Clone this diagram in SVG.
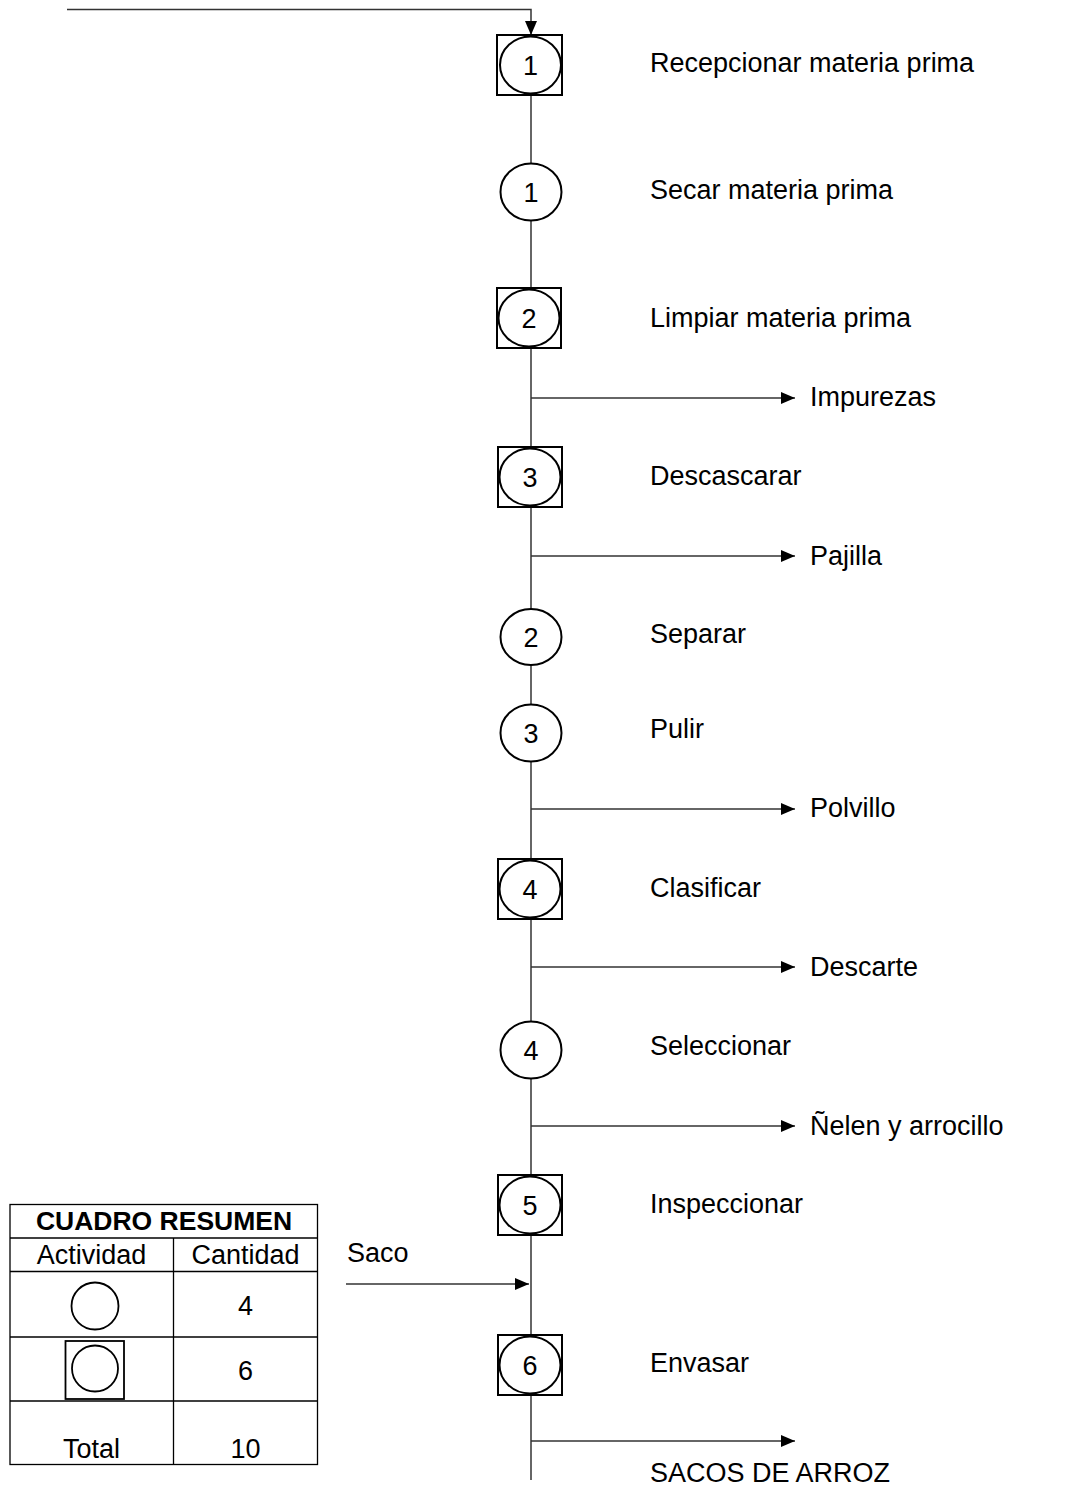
<svg xmlns="http://www.w3.org/2000/svg" width="1084" height="1486" viewBox="0 0 1084 1486">
<style>
.t{font-family:"Liberation Sans",Arial,sans-serif;font-size:27px;fill:#000}
.n{font-family:"Liberation Sans",Arial,sans-serif;font-size:27px;fill:#000;text-anchor:middle}
.b{font-weight:bold;font-size:26.5px}
.c{fill:#fff;stroke:#000;stroke-width:2}
.bx{fill:#fff;stroke:#000;stroke-width:2}
.ln{fill:none;stroke:#333;stroke-width:1.5}
.tb{fill:none;stroke:#000;stroke-width:1.3}
</style>
<defs>
<marker id="ah" markerWidth="14" markerHeight="12" refX="14" refY="6" orient="auto" markerUnits="userSpaceOnUse">
<path d="M0,0 L14,6 L0,12 z" fill="#000"/>
</marker>
</defs>
<rect width="1084" height="1486" fill="#fff"/>
<g id="connectors">
<path class="ln" d="M67,9.5 H531 V35" marker-end="url(#ah)"/>
<line class="ln" x1="531" y1="35" x2="531" y2="1480"/>
<line class="ln" x1="531" y1="398" x2="795" y2="398" marker-end="url(#ah)"/>
<line class="ln" x1="531" y1="556" x2="795" y2="556" marker-end="url(#ah)"/>
<line class="ln" x1="531" y1="809" x2="795" y2="809" marker-end="url(#ah)"/>
<line class="ln" x1="531" y1="967" x2="795" y2="967" marker-end="url(#ah)"/>
<line class="ln" x1="531" y1="1126" x2="795" y2="1126" marker-end="url(#ah)"/>
<line class="ln" x1="531" y1="1441" x2="795" y2="1441" marker-end="url(#ah)"/>
<line class="ln" x1="346" y1="1284" x2="529" y2="1284" marker-end="url(#ah)"/>
</g>
<g id="node-op1">
<rect class="bx" x="497" y="35" width="65" height="60"/>
<ellipse class="c" cx="530.5" cy="65" rx="30.5" ry="28.5"/>
<text class="n" x="530.5" y="75">1</text>
<text class="t" x="650" y="72">Recepcionar materia prima</text>
</g>
<g id="node-c1">
<ellipse class="c" cx="531" cy="192" rx="30.5" ry="28.5"/>
<text class="n" x="531" y="202">1</text>
<text class="t" x="650" y="199">Secar materia prima</text>
</g>
<g id="node-op2">
<rect class="bx" x="497" y="288" width="64" height="60"/>
<ellipse class="c" cx="529" cy="318" rx="30.5" ry="28.5"/>
<text class="n" x="529" y="328">2</text>
<text class="t" x="650" y="327">Limpiar materia prima</text>
</g>
<g id="out-impurezas"><text class="t" x="810" y="406">Impurezas</text></g>
<g id="node-op3">
<rect class="bx" x="498" y="447" width="64" height="60"/>
<ellipse class="c" cx="530" cy="477" rx="30.5" ry="28.5"/>
<text class="n" x="530" y="487">3</text>
<text class="t" x="650" y="485">Descascarar</text>
</g>
<g id="out-pajilla"><text class="t" x="810" y="565">Pajilla</text></g>
<g id="node-c2">
<ellipse class="c" cx="531" cy="637" rx="30.5" ry="28"/>
<text class="n" x="531" y="647">2</text>
<text class="t" x="650" y="643">Separar</text>
</g>
<g id="node-c3">
<ellipse class="c" cx="531" cy="733" rx="30.5" ry="28.5"/>
<text class="n" x="531" y="743">3</text>
<text class="t" x="650" y="738">Pulir</text>
</g>
<g id="out-polvillo"><text class="t" x="810" y="817">Polvillo</text></g>
<g id="node-op4">
<rect class="bx" x="498" y="859" width="64" height="60"/>
<ellipse class="c" cx="530" cy="889" rx="30.5" ry="28.5"/>
<text class="n" x="530" y="899">4</text>
<text class="t" x="650" y="897">Clasificar</text>
</g>
<g id="out-descarte"><text class="t" x="810" y="976">Descarte</text></g>
<g id="node-c4">
<ellipse class="c" cx="531" cy="1050" rx="30.5" ry="28.5"/>
<text class="n" x="531" y="1060">4</text>
<text class="t" x="650" y="1055">Seleccionar</text>
</g>
<g id="out-nelen"><text class="t" x="810" y="1135">Ñelen y arrocillo</text></g>
<g id="node-op5">
<rect class="bx" x="498" y="1175" width="64" height="60"/>
<ellipse class="c" cx="530" cy="1205" rx="30.5" ry="28.5"/>
<text class="n" x="530" y="1215">5</text>
<text class="t" x="650" y="1213">Inspeccionar</text>
</g>
<g id="in-saco"><text class="t" x="347" y="1262">Saco</text></g>
<g id="node-op6">
<rect class="bx" x="498" y="1335" width="64" height="60"/>
<ellipse class="c" cx="530" cy="1365" rx="30.5" ry="28.5"/>
<text class="n" x="530" y="1375">6</text>
<text class="t" x="650" y="1372">Envasar</text>
</g>
<g id="out-sacos"><text class="t" x="650" y="1482">SACOS DE ARROZ</text></g>
<g id="cuadro-resumen">
<rect class="tb" x="10" y="1204.5" width="307.5" height="260"/>
<line class="tb" x1="10" y1="1238" x2="317.5" y2="1238"/>
<line class="tb" x1="10" y1="1271.5" x2="317.5" y2="1271.5"/>
<line class="tb" x1="10" y1="1337" x2="317.5" y2="1337"/>
<line class="tb" x1="10" y1="1401" x2="317.5" y2="1401"/>
<line class="tb" x1="173.5" y1="1238" x2="173.5" y2="1464.5"/>
<text class="n b" x="164" y="1230">CUADRO RESUMEN</text>
<text class="n" x="91.5" y="1264">Actividad</text>
<text class="n" x="245.5" y="1264">Cantidad</text>
<circle cx="95" cy="1306" r="23.5" fill="#fff" stroke="#000" stroke-width="1.8"/>
<text class="n" x="245.5" y="1315">4</text>
<rect x="65.5" y="1341" width="58.5" height="58" fill="#fff" stroke="#000" stroke-width="1.8"/>
<circle cx="95" cy="1368.5" r="23" fill="#fff" stroke="#000" stroke-width="1.8"/>
<text class="n" x="245.5" y="1380">6</text>
<text class="n" x="91.5" y="1458">Total</text>
<text class="n" x="245.5" y="1458">10</text>
</g>
</svg>
